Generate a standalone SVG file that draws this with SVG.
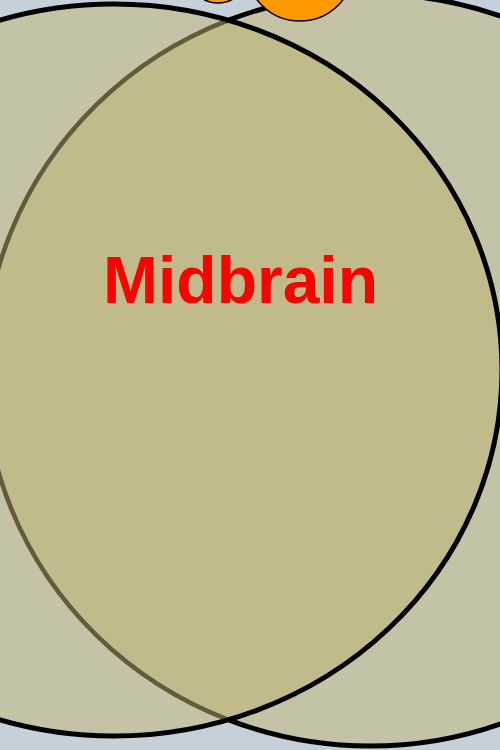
<svg xmlns="http://www.w3.org/2000/svg" width="500" height="750" viewBox="0 0 500 750">
  <style>
    .region { fill: #c4c3a8; }
    .overlap { fill: #c1bb8c; }
    .outline { fill: none; stroke: #000000; stroke-width: 5; }
    .hidden-arc { fill: none; stroke: #625c3b; stroke-width: 4.5; }
    .orange { fill: #ff9900; stroke: #000000; stroke-width: 1.5; }
    .label { font-family: "Liberation Sans", Arial, sans-serif; font-weight: bold; font-size: 66px; fill: #ff0000; }
  </style>
  <defs>
    <clipPath id="clipA">
      <ellipse cx="114" cy="370" rx="388" ry="366"/>
    </clipPath>
  </defs>
  <rect x="0" y="0" width="500" height="750" fill="#c6d0d8"/>
  <g id="ellipse-right">
    <ellipse class="region" cx="370" cy="370" rx="386" ry="376"/>
    <ellipse class="outline" cx="370" cy="370" rx="386" ry="376"/>
  </g>
  <g id="ellipse-left">
    <ellipse class="region" cx="114" cy="370" rx="388" ry="366"/>
    <g clip-path="url(#clipA)">
      <ellipse class="overlap" cx="370" cy="370" rx="386" ry="376"/>
      <ellipse class="hidden-arc" cx="370" cy="370" rx="386" ry="376"/>
    </g>
    <ellipse class="outline" cx="114" cy="370" rx="388" ry="366"/>
  </g>
  <g id="circle-small">
    <circle class="orange" cx="218" cy="-27" r="30"/>
  </g>
  <g id="circle-large">
    <circle class="orange" cx="300" cy="-33" r="54"/>
  </g>
  <g id="label">
    <text class="label" x="240.5" y="303" text-anchor="middle">Midbrain</text>
  </g>
</svg>
